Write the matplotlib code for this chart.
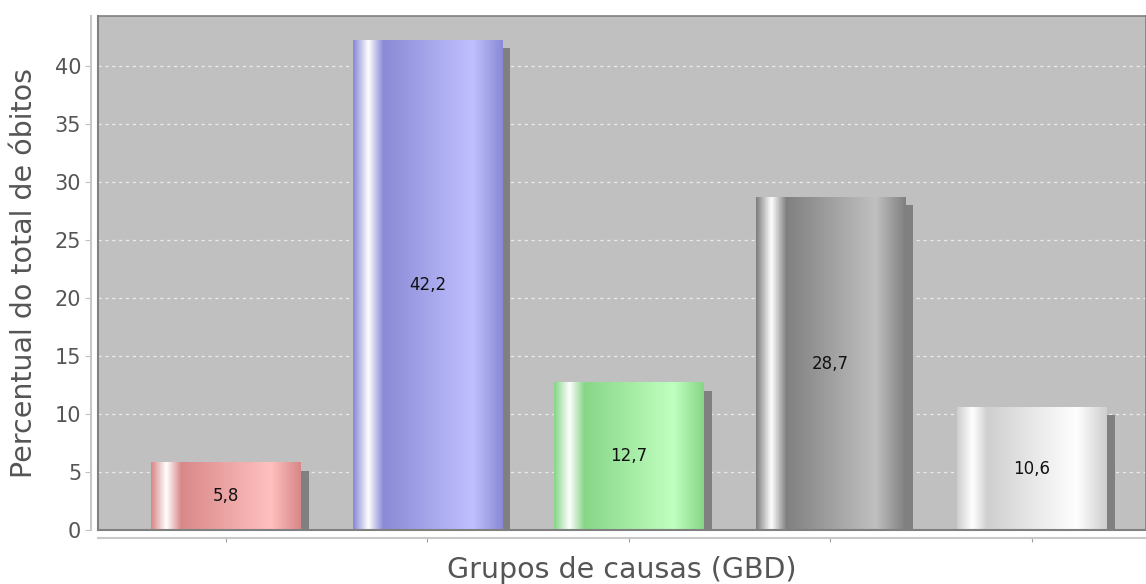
import numpy as np
import matplotlib.pyplot as plt
from matplotlib.colors import LinearSegmentedColormap
from matplotlib.patches import Rectangle

valores = [5.8, 42.2, 12.7, 28.7, 10.6]
rotulos = ["5,8", "42,2", "12,7", "28,7", "10,6"]
# cor base / cor clara de cada barra
cores_base = ["#d98888", "#8a8ad6", "#88d688", "#808080", "#cfcfcf"]
cores_claras = ["#ffc0c0", "#c0c0ff", "#c0ffc0", "#c0c0c0", "#ffffff"]

largura = 0.74

fig = plt.figure(figsize=(11.46, 5.84), dpi=100)
ax = fig.add_axes([98 / 1146, 54 / 584, 1 - 98 / 1146, 514 / 584])
ax.set_facecolor("#c0c0c0")

ax.yaxis.grid(True, color="#ececec", linestyle=(0, (2.5, 3)), linewidth=0.9)
ax.set_axisbelow(True)

gradiente = np.linspace(0, 1, 300).reshape(1, -1)
dx = 8 / 201.5
dy = 8 / 11.6

for i, v in enumerate(valores):
    x0 = i - largura / 2
    # sombra
    ax.add_patch(Rectangle((x0 + dx, 0), largura, max(v - dy, 0),
                           facecolor="#808080", edgecolor="none", zorder=2))
    cmap = LinearSegmentedColormap.from_list(
        "g%d" % i,
        [(0.0, cores_base[i]), (0.10, "#ffffff"), (0.20, cores_base[i]),
         (0.80, cores_claras[i]), (1.0, cores_base[i])])
    ax.imshow(gradiente, cmap=cmap, aspect="auto", extent=(x0, x0 + largura, 0, v),
              zorder=3, interpolation="bilinear")
    ax.text(i, v / 2, rotulos[i], ha="center", va="center", fontsize=12,
            color="#111111", zorder=4)

ax.set_xlim(-0.635, 4.566)
ax.set_ylim(0, 44.3)

# borda da area de plotagem
for s in ["top", "right"]:
    ax.spines[s].set_color("#808080")
    ax.spines[s].set_linewidth(1.2)
ax.plot([0, 0], [0, 1], transform=ax.transAxes, color="#808080", lw=1.5, zorder=5,
        clip_on=False)
ax.plot([0, 1], [0, 0], transform=ax.transAxes, color="#808080", lw=1.5, zorder=5,
        clip_on=False)

ax.spines["left"].set_position(("outward", 5))
ax.spines["bottom"].set_position(("outward", 6))
ax.spines["left"].set_color("#c8c8c8")
ax.spines["bottom"].set_color("#c8c8c8")
ax.spines["left"].set_linewidth(1.5)
ax.spines["bottom"].set_linewidth(1.5)

ax.set_yticks(range(0, 45, 5))
ax.set_xticks(range(len(valores)))
ax.set_xticklabels([])
ax.tick_params(axis="y", colors="#c0c0c0", labelcolor="#555555", labelsize=15, length=4,
               pad=3)
ax.tick_params(axis="x", colors="#a0a0a0", length=3)

ax.set_ylabel("Percentual do total de óbitos", fontsize=20.5, color="#555555", labelpad=12)
ax.set_xlabel("Grupos de causas (GBD)", fontsize=20.5, color="#555555", labelpad=6)

fig.savefig("out.png", dpi=100)
